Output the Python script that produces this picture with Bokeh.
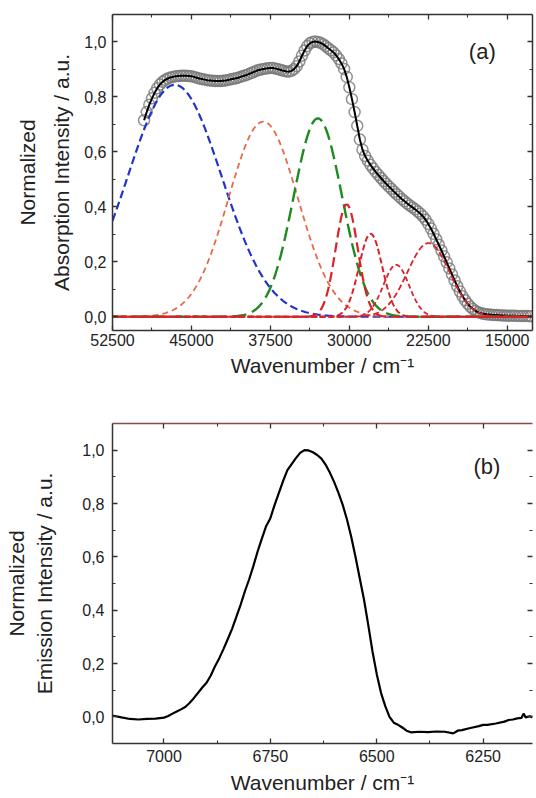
import numpy as np
from bokeh.plotting import figure
from bokeh.layouts import column
from bokeh.models import (LinearAxis, FixedTicker, CustomJSTickFormatter, Range1d,
                          Label, ColumnDataSource, CustomLabelingPolicy)
from bokeh.embed import file_html
from bokeh.resources import INLINE

FONT = "Liberation Sans"

# ---------------- (a) absorption spectrum ----------------
abs_wavenumber = list(range(49500, 12749, -250))
abs_intensity = [
    0.715, 0.745, 0.772, 0.795, 0.815, 0.832, 0.845, 0.855, 0.862, 0.867,
    0.871, 0.873, 0.875, 0.876, 0.877, 0.877, 0.877, 0.876, 0.875, 0.873,
    0.870, 0.867, 0.865, 0.863, 0.861, 0.860, 0.859, 0.858, 0.858, 0.858,
    0.859, 0.860, 0.862, 0.864, 0.866, 0.868, 0.871, 0.874, 0.877, 0.880,
    0.884, 0.888, 0.892, 0.896, 0.899, 0.901, 0.903, 0.904, 0.905, 0.905,
    0.903, 0.901, 0.898, 0.895, 0.893, 0.892, 0.895, 0.901, 0.912, 0.929,
    0.950, 0.969, 0.985, 0.995, 1.000, 1.002, 1.000, 0.997, 0.992, 0.985,
    0.977, 0.970, 0.962, 0.951, 0.938, 0.922, 0.902, 0.873, 0.835, 0.792,
    0.745, 0.695, 0.645, 0.608, 0.585, 0.568, 0.553, 0.540, 0.527, 0.516,
    0.505, 0.494, 0.484, 0.474, 0.465, 0.455, 0.446, 0.437, 0.428, 0.420,
    0.412, 0.405, 0.398, 0.391, 0.383, 0.375, 0.365, 0.353, 0.338, 0.321,
    0.302, 0.282, 0.262, 0.241, 0.220, 0.198, 0.176, 0.154, 0.132, 0.111,
    0.092, 0.075, 0.060, 0.047, 0.036, 0.028, 0.021, 0.016, 0.013, 0.011,
    0.009, 0.008, 0.007, 0.0065, 0.006, 0.0055, 0.005, 0.0045, 0.004, 0.004,
    0.004, 0.0035, 0.003, 0.003, 0.003, 0.0025, 0.0025, 0.002,
]

# Gaussian band components of the fit: centre (cm-1), height, sigma (cm-1)
band_center = [46590, 38180, 32990, 30250, 27980, 25550, 22480]
band_height = [0.844, 0.710, 0.722, 0.409, 0.302, 0.189, 0.268]
band_sigma = [4450, 3300, 2300, 1050, 1100, 1220, 2000]
band_color = ["#2233cc", "#e8694a", "#1f8a1f", "#d8232a", "#d8232a", "#d8232a", "#d8232a"]
band_dash = ["8 4", "6 4", "14 6", "10 5", "6 3", "5 3", "6 3"]
band_width = [2.2, 1.8, 2.4, 2.2, 2.0, 1.8, 1.8]

a_xticks = [52500, 45000, 37500, 30000, 22500, 15000]
a_xminor = [48750, 41250, 33750, 26250, 18750]
y_ticks = [0.0, 0.2, 0.4, 0.6, 0.8, 1.0]
y_minor = [0.1, 0.3, 0.5, 0.7, 0.9]

# ---------------- (b) emission spectrum ----------------
em_wavenumber = [7122, 7100, 7080, 7060, 7040, 7020, 7000, 6990, 6980, 6970, 6960, 6950,
                 6940, 6930, 6920, 6910, 6900, 6890, 6880, 6870, 6860, 6850, 6840, 6830,
                 6820, 6810, 6800, 6790, 6780, 6770, 6760, 6750, 6740, 6730, 6720, 6710,
                 6700, 6690, 6680, 6670, 6660, 6650, 6640, 6630, 6620, 6610, 6600, 6590,
                 6580, 6570, 6560, 6550, 6540, 6530, 6520, 6510, 6500, 6490, 6480, 6470,
                 6460, 6450, 6440, 6430, 6420, 6400, 6380, 6360, 6340, 6320, 6310, 6300,
                 6280, 6260, 6250, 6240, 6220, 6200, 6190, 6180, 6170, 6160, 6155, 6150,
                 6140, 6134]
em_intensity = [0.005, -0.002, -0.008, -0.010, -0.008, -0.007, -0.003, 0.003, 0.012, 0.020,
                0.028, 0.037, 0.052, 0.070, 0.090, 0.110, 0.128, 0.155, 0.190, 0.220,
                0.255, 0.292, 0.330, 0.375, 0.420, 0.470, 0.515, 0.565, 0.620, 0.668,
                0.715, 0.745, 0.795, 0.840, 0.885, 0.925, 0.948, 0.970, 0.990, 1.000,
                0.999, 0.992, 0.982, 0.968, 0.945, 0.915, 0.880, 0.840, 0.795, 0.740,
                0.675, 0.600, 0.520, 0.440, 0.345, 0.245, 0.160, 0.090, 0.040, 0.000,
                -0.022, -0.030, -0.040, -0.052, -0.058, -0.056, -0.057, -0.055, -0.056,
                -0.062, -0.052, -0.050, -0.042, -0.035, -0.030, -0.030, -0.025, -0.018,
                -0.012, -0.010, -0.006, -0.004, 0.012, -0.002, 0.002, -0.002]

b_xticks = [7000, 6750, 6500, 6250]
b_xminor = [7125, 6875, 6625, 6375, 6125]

INK = "#333333"
comma_fmt = CustomJSTickFormatter(code="return tick.toFixed(1).replace('.', ',');")
no_labels = CustomLabelingPolicy(code="""
    const all = Array.from(indices)
    for (const i of all) indices.unset(i)
    return indices
""")


def styled_axis(ticks, minor, labels=True, label=None, color=INK, line_alpha=1.0,
                standoff=5, label_standoff=5):
    ax = LinearAxis(ticker=FixedTicker(ticks=ticks, minor_ticks=minor))
    ax.axis_line_color = color
    ax.axis_line_width = 1.5
    ax.axis_line_alpha = line_alpha
    ax.major_tick_in = 5
    ax.major_tick_out = 0
    ax.minor_tick_in = 3
    ax.minor_tick_out = 0
    ax.major_tick_line_color = INK
    ax.minor_tick_line_color = INK
    ax.major_tick_line_width = 1.3
    ax.minor_tick_line_width = 1.1
    ax.major_label_text_font = FONT
    ax.major_label_text_color = "#222222"
    ax.major_label_standoff = standoff
    if labels:
        ax.major_label_text_font_size = "16px"
    else:
        # tick marks only, no tick labels on this side
        ax.major_label_policy = no_labels
        ax.major_label_text_font_size = "1px"
        ax.major_label_standoff = 0
    if label is not None:
        ax.axis_label = label
        ax.axis_label_text_font = FONT
        ax.axis_label_text_font_size = "21px"
        ax.axis_label_text_font_style = "normal"
        ax.axis_label_text_color = "#222222"
        ax.axis_label_standoff = label_standoff
    return ax


def title_axis(label, label_standoff):
    ax = LinearAxis(ticker=FixedTicker(ticks=[]))
    ax.axis_line_alpha = 0
    ax.major_tick_in = 0
    ax.major_tick_out = 0
    ax.minor_tick_in = 0
    ax.minor_tick_out = 0
    ax.major_label_standoff = 0
    ax.major_label_policy = no_labels
    ax.axis_label = label
    ax.axis_label_text_font = FONT
    ax.axis_label_text_font_size = "21px"
    ax.axis_label_text_font_style = "normal"
    ax.axis_label_text_color = "#222222"
    ax.axis_label_standoff = label_standoff
    return ax


def base_figure(width, height, xr, yr, borders):
    p = figure(width=width, height=height, x_range=xr, y_range=yr,
               output_backend="svg", toolbar_location=None,
               x_axis_location=None, y_axis_location=None,
               min_border_left=borders[0], min_border_right=borders[1],
               min_border_top=borders[2], min_border_bottom=borders[3])
    p.outline_line_color = None
    p.background_fill_color = "white"
    p.border_fill_color = "white"
    p.grid.visible = False
    return p


# ---- panel (a)
pa = base_figure(536, 395, Range1d(52500, 12600), Range1d(-0.05, 1.1), (112, 3, 14, 65))

ax_b = styled_axis(a_xticks, a_xminor, label="Wavenumber / cm\u207b\u00b9",
                   standoff=3, label_standoff=5)
ax_b.major_label_overrides = {t: str(t) for t in a_xticks}
pa.add_layout(ax_b, "below")
pa.add_layout(styled_axis(a_xticks, a_xminor, labels=False), "above")
ax_l = styled_axis(y_ticks, y_minor, label="Absorption Intensity / a.u.",
                   standoff=6, label_standoff=8)
ax_l.formatter = comma_fmt
pa.add_layout(ax_l, "left")
pa.add_layout(title_axis("Normalized", 9), "left")
pa.add_layout(styled_axis(y_ticks, y_minor, labels=False), "right")

# measured points as open grey circles, fit curve in black
src_abs = ColumnDataSource(dict(x=abs_wavenumber, y=abs_intensity))
pa.scatter("x", "y", source=src_abs, marker="circle", size=11, fill_color=None,
           line_color="#777777", line_alpha=0.8, line_width=1.5)
pa.line("x", "y", source=src_abs, line_color="black", line_width=2.0)

# Gaussian components drawn on top of the data
grid_x = np.arange(52500, 12599, -100)
for c, h, s, col, dash, lw in zip(band_center, band_height, band_sigma,
                                  band_color, band_dash, band_width):
    band = h * np.exp(-((grid_x - c) ** 2) / (2.0 * s ** 2))
    pa.line(grid_x, band, line_color=col, line_dash=dash, line_width=lw)

pa.add_layout(Label(x=17370, y=0.965, text="(a)", text_font=FONT, text_font_size="22px",
                    text_color="#222222", text_align="center", text_baseline="middle"))

# ---- panel (b)
pb = base_figure(536, 403, Range1d(7121, 6134), Range1d(-0.1, 1.1), (111, 0, 28, 55))

bx_b = styled_axis(b_xticks, b_xminor, label="Wavenumber / cm\u207b\u00b9",
                   standoff=6, label_standoff=6)
pb.add_layout(bx_b, "below")
pb.add_layout(styled_axis(b_xticks, b_xminor, labels=False, color="#8b4a4a"), "above")
bx_l = styled_axis(y_ticks, y_minor, label="Emission Intensity / a.u.",
                   standoff=8, label_standoff=23)
bx_l.formatter = comma_fmt
pb.add_layout(bx_l, "left")
pb.add_layout(title_axis("Normalized", 3), "left")
pb.add_layout(styled_axis(y_ticks, y_minor, labels=False, line_alpha=0.0), "right")

pb.line(em_wavenumber, em_intensity, line_color="black", line_width=2.2)
pb.add_layout(Label(x=6241, y=0.939, text="(b)", text_font=FONT, text_font_size="22px",
                    text_color="#222222", text_align="center", text_baseline="middle"))

layout = column(pa, pb, spacing=0)
open("out.html", "w").write(file_html(layout, INLINE))
